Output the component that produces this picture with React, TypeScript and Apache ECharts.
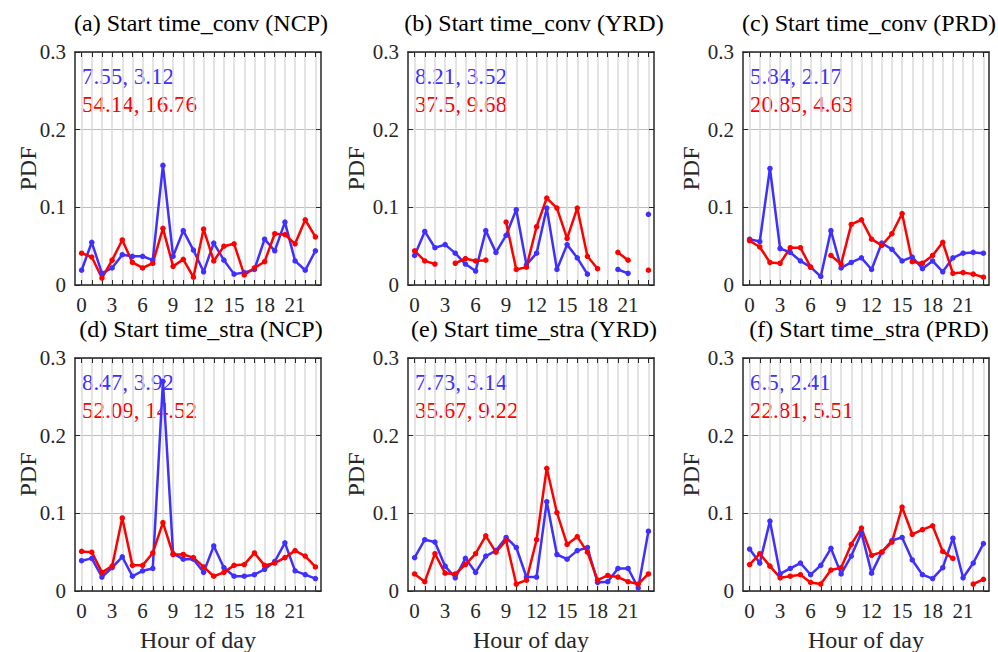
import React, { useEffect, useRef } from "react";
import * as echarts from "echarts";

const HOURS = [0, 1, 2, 3, 4, 5, 6, 7, 8, 9, 10, 11, 12, 13, 14, 15, 16, 17, 18, 19, 20, 21, 22, 23];
const X_TICK_LABELS = [0, 3, 6, 9, 12, 15, 18, 21];

const A_BLUE = [0.019, 0.055, 0.015, 0.022, 0.039, 0.037, 0.037, 0.032, 0.154, 0.037, 0.070, 0.045, 0.017, 0.054, 0.032, 0.014, 0.016, 0.020, 0.059, 0.044, 0.081, 0.031, 0.019, 0.044];
const A_RED = [0.041, 0.036, 0.009, 0.032, 0.058, 0.029, 0.022, 0.028, 0.073, 0.024, 0.033, 0.010, 0.072, 0.031, 0.050, 0.053, 0.013, 0.022, 0.030, 0.066, 0.065, 0.053, 0.084, 0.062];
const B_BLUE = [0.038, 0.069, 0.048, 0.052, 0.041, 0.027, 0.018, 0.070, 0.042, 0.064, 0.097, 0.026, 0.041, 0.099, 0.020, 0.052, 0.035, 0.014, null, null, 0.020, 0.015, null, 0.091];
const B_RED = [0.044, 0.031, 0.027, null, 0.028, 0.034, 0.031, 0.032, null, 0.081, 0.020, 0.023, 0.075, 0.112, 0.099, 0.060, 0.099, 0.037, 0.021, null, 0.042, 0.032, null, 0.019];
const C_BLUE = [0.059, 0.056, 0.150, 0.047, 0.042, 0.031, 0.023, 0.011, 0.070, 0.022, 0.029, 0.035, 0.020, 0.054, 0.046, 0.031, 0.036, 0.021, 0.031, 0.017, 0.035, 0.041, 0.042, 0.041];
const C_RED = [0.057, 0.049, 0.029, 0.028, 0.048, 0.048, 0.023, null, 0.038, 0.027, 0.078, 0.084, 0.059, 0.051, 0.066, 0.092, 0.030, 0.028, 0.038, 0.055, 0.015, 0.016, 0.014, 0.010];
const D_BLUE = [0.039, 0.042, 0.018, 0.030, 0.044, 0.019, 0.026, 0.029, 0.270, 0.048, 0.041, 0.041, 0.024, 0.058, 0.030, 0.019, 0.019, 0.021, 0.028, 0.038, 0.062, 0.026, 0.021, 0.016];
const D_RED = [0.051, 0.050, 0.024, 0.032, 0.094, 0.033, 0.033, 0.049, 0.088, 0.047, 0.047, 0.043, 0.031, 0.019, 0.024, 0.033, 0.034, 0.049, 0.033, 0.036, 0.043, 0.052, 0.045, 0.031];
const E_BLUE = [0.043, 0.066, 0.063, 0.032, 0.017, 0.042, 0.024, 0.045, 0.052, 0.069, 0.056, 0.018, 0.018, 0.115, 0.047, 0.041, 0.052, 0.056, 0.011, 0.012, 0.029, 0.029, 0.004, 0.077];
const E_RED = [0.022, 0.012, 0.048, 0.023, 0.022, 0.034, 0.048, 0.071, 0.050, 0.065, 0.009, 0.014, 0.066, 0.158, 0.101, 0.060, 0.070, 0.050, 0.014, 0.020, 0.018, 0.012, 0.009, 0.022];
const F_BLUE = [0.054, 0.036, 0.090, 0.022, 0.029, 0.036, 0.021, 0.033, 0.055, 0.022, 0.045, 0.075, 0.023, 0.050, 0.065, 0.069, 0.040, 0.021, 0.016, 0.030, 0.068, 0.017, 0.036, 0.061];
const F_RED = [0.034, 0.048, 0.032, 0.017, 0.019, 0.021, 0.011, 0.009, 0.027, 0.030, 0.060, 0.081, 0.046, 0.050, 0.063, 0.108, 0.073, 0.079, 0.084, 0.051, 0.042, null, 0.009, 0.015];

const BLUE_SERIES = [A_BLUE, B_BLUE, C_BLUE, D_BLUE, E_BLUE, F_BLUE];
const RED_SERIES = [A_RED, B_RED, C_RED, D_RED, E_RED, F_RED];

const TITLES = [
  "(a) Start time_conv (NCP)",
  "(b) Start time_conv (YRD)",
  "(c) Start time_conv (PRD)",
  "(d) Start time_stra (NCP)",
  "(e) Start time_stra (YRD)",
  "(f) Start time_stra (PRD)",
];
const STATS_BLUE = ["7.55, 3.12", "8.21, 3.52", "5.84, 2.17", "8.47, 3.92", "7.73, 3.14", "6.5, 2.41"];
const STATS_RED = ["54.14, 16.76", "37.5, 9.68", "20.85, 4.63", "52.09, 14.52", "35.67, 9.22", "22.81, 5.51"];

const Y_MIN = 0;
const Y_MAX = 0.3;
const Y_STEP = 0.1;

const FONT = "'Liberation Serif', 'Times New Roman', serif";
const BLUE = "#4030FF";
const RED = "#FF0000";
const INK = "#262626";

const COL_LEFT = [75, 408, 743];
const ROW_TOP = [52, 358];
const PLOT_W = 246;
const PLOT_H = 233;
const PDF_X = [28, 356, 691];

export default function App() {
  const ref = useRef<HTMLDivElement>(null);

  useEffect(() => {
    if (!ref.current) return;
    const chart = echarts.init(ref.current, null, { renderer: "svg" });

    const grids: any[] = [];
    const xAxes: any[] = [];
    const yAxes: any[] = [];
    const series: any[] = [];
    const graphics: any[] = [];

    for (let i = 0; i < 6; i++) {
      const row = Math.floor(i / 3);
      const col = i % 3;
      const left = COL_LEFT[col];
      const top = ROW_TOP[row];
      grids.push({ left, top, width: PLOT_W, height: PLOT_H, containLabel: false });

      const xBase = {
        type: "value",
        gridIndex: i,
        min: -0.65,
        max: 23.55,
        axisLine: { show: true, onZero: false, lineStyle: { color: INK, width: 1.5 } },
        silent: true,
      };
      xAxes.push({
        ...xBase,
        position: "bottom",
        axisTick: { show: true, inside: true, length: 5, customValues: HOURS, lineStyle: { color: INK, width: 1 } },
        axisLabel: {
          show: true,
          customValues: X_TICK_LABELS,
          margin: 10,
          color: INK,
          fontFamily: FONT,
          fontSize: 21,
          lineHeight: 19,
        },
        splitLine: { show: true, lineStyle: { color: "#dadada", width: 1.5 } },
      });
      xAxes.push({
        ...xBase,
        position: "top",
        axisTick: { show: true, inside: true, length: 5, customValues: HOURS, lineStyle: { color: INK, width: 1 } },
        axisLabel: { show: false },
        splitLine: { show: false },
      });
      const yBase = {
        type: "value",
        gridIndex: i,
        min: Y_MIN,
        max: Y_MAX,
        interval: Y_STEP,
        axisLine: { show: true, onZero: false, lineStyle: { color: INK, width: 1.5 } },
        axisTick: { show: true, inside: true, length: 5, lineStyle: { color: INK, width: 1 } },
        silent: true,
      };
      yAxes.push({
        ...yBase,
        position: "left",
        axisLabel: {
          show: true,
          margin: 9,
          color: INK,
          fontFamily: FONT,
          fontSize: 21,
          formatter: (v: number) => (Math.round(v * 10) / 10).toString(),
        },
        splitLine: { show: true, lineStyle: { color: "#bdbdbd", width: 1.2 } },
      });
      yAxes.push({
        ...yBase,
        position: "right",
        axisLabel: { show: false },
        splitLine: { show: false },
      });

      const mk = (arr: (number | null)[], color: string) => ({
        type: "line",
        xAxisIndex: 2 * i,
        yAxisIndex: 2 * i,
        data: HOURS.map((h, k) => [h, arr[k] === null ? "-" : arr[k]]),
        symbol: "circle",
        symbolSize: 5.5,
        showSymbol: true,
        connectNulls: false,
        lineStyle: { color, width: 2.5 },
        itemStyle: { color },
        emphasis: { disabled: true },
        silent: true,
        z: 3,
      });
      series.push(mk(BLUE_SERIES[i], BLUE));
      series.push(mk(RED_SERIES[i], RED));

      const cx = left + PLOT_W / 2;
      graphics.push({
        type: "text",
        x: cx + 3,
        y: top - 29,
        style: {
          text: TITLES[i],
          font: `24px ${FONT}`,
          lineHeight: 20,
          fill: "#000",
          align: "center",
          verticalAlign: "middle",
          textAlign: "center",
          textVerticalAlign: "middle",
        },
      });
      graphics.push({
        type: "text",
        x: left + 7,
        y: top + 24,
        style: {
          text: STATS_BLUE[i],
          font: `23px ${FONT}`,
          lineHeight: 22,
          fill: BLUE,
          align: "left",
          verticalAlign: "middle",
          textAlign: "left",
          textVerticalAlign: "middle",
        },
      });
      graphics.push({
        type: "text",
        x: left + 7,
        y: top + 52,
        style: {
          text: STATS_RED[i],
          font: `23px ${FONT}`,
          lineHeight: 22,
          fill: RED,
          align: "left",
          verticalAlign: "middle",
          textAlign: "left",
          textVerticalAlign: "middle",
        },
      });
      graphics.push({
        type: "text",
        x: PDF_X[col],
        y: top + PLOT_H / 2,
        rotation: Math.PI / 2,
        style: {
          text: "PDF",
          font: `24px ${FONT}`,
          fill: INK,
          align: "center",
          verticalAlign: "middle",
          textAlign: "center",
          textVerticalAlign: "middle",
        },
      });
      if (row === 1) {
        graphics.push({
          type: "text",
          x: cx,
          y: 640,
          style: {
            text: "Hour of day",
            font: `24px ${FONT}`,
            lineHeight: 22,
            fill: INK,
            align: "center",
            verticalAlign: "middle",
            textAlign: "center",
            textVerticalAlign: "middle",
          },
        });
      }
    }

    chart.setOption({
      animation: false,
      backgroundColor: "#ffffff",
      grid: grids,
      xAxis: xAxes,
      yAxis: yAxes,
      series,
      graphic: { elements: graphics },
    });

    return () => chart.dispose();
  }, []);

  return (
    <div
      ref={ref}
      style={{ position: "fixed", left: 0, top: 0, width: 998, height: 652, background: "#fff" }}
    />
  );
}
